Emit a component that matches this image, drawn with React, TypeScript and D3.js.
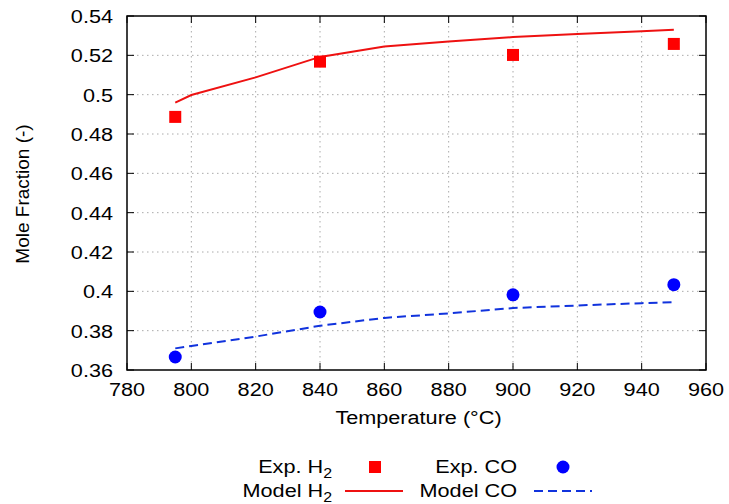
import React, { useEffect, useRef } from 'react';
import * as d3 from 'd3';

// experimental points
const expTemps = [795, 840, 900, 950];
const expH2 = [0.4887, 0.5168, 0.5202, 0.5258];
const expCO = [0.3666, 0.3895, 0.3982, 0.4034];

// model curves
const modelTemps = [795, 800, 820, 840, 860, 880, 900, 920, 940, 950];
const modelH2 = [0.4960, 0.4998, 0.5088, 0.5192, 0.5245, 0.5270, 0.5293, 0.5308, 0.5322, 0.5330];
const modelCO = [0.3710, 0.3722, 0.3770, 0.3825, 0.3865, 0.3888, 0.3915, 0.3928, 0.3940, 0.3945];

const xTicks = [780, 800, 820, 840, 860, 880, 900, 920, 940, 960];
const yTicks = [0.36, 0.38, 0.4, 0.42, 0.44, 0.46, 0.48, 0.5, 0.52, 0.54];

const App = () => {
    const chartRef = useRef<SVGSVGElement>(null);

    useEffect(() => {
        if (chartRef.current) {
            drawChart();
        }
    }, []);

    const drawChart = () => {
        const svg = d3.select(chartRef.current);
        svg.selectAll('*').remove();

        const left = 127, right = 706, top = 16, bottom = 370;
        const font = 'Liberation Sans, Arial, sans-serif';
        const sx = 1.14; // source text is a little wider than Liberation Sans

        const x = d3.scaleLinear().domain([780, 960]).range([left, right]);
        const y = d3.scaleLinear().domain([0.36, 0.54]).range([bottom, top]);

        const g = svg.append('g');

        // grid
        g.selectAll('.gx')
            .data(xTicks.slice(1, -1))
            .enter()
            .append('line')
            .attr('x1', d => x(d)).attr('x2', d => x(d))
            .attr('y1', top).attr('y2', bottom)
            .attr('stroke', '#aaa')
            .attr('stroke-width', 1)
            .attr('stroke-dasharray', '1.5,3.5');
        g.selectAll('.gy')
            .data(yTicks.slice(1, -1))
            .enter()
            .append('line')
            .attr('x1', left).attr('x2', right)
            .attr('y1', d => y(d)).attr('y2', d => y(d))
            .attr('stroke', '#aaa')
            .attr('stroke-width', 1)
            .attr('stroke-dasharray', '1.5,3.5');

        // inward ticks on all sides
        const tl = 7;
        xTicks.forEach(t => {
            g.append('line').attr('x1', x(t)).attr('x2', x(t)).attr('y1', bottom).attr('y2', bottom - tl).attr('stroke', '#000');
            g.append('line').attr('x1', x(t)).attr('x2', x(t)).attr('y1', top).attr('y2', top + tl).attr('stroke', '#000');
        });
        yTicks.forEach(t => {
            g.append('line').attr('x1', left).attr('x2', left + tl).attr('y1', y(t)).attr('y2', y(t)).attr('stroke', '#000');
            g.append('line').attr('x1', right).attr('x2', right - tl).attr('y1', y(t)).attr('y2', y(t)).attr('stroke', '#000');
        });

        // tick labels
        g.selectAll('.xl')
            .data(xTicks)
            .enter()
            .append('text')
            .attr('transform', d => `translate(${x(d)}, ${bottom + 26}) scale(${sx}, 1)`)
            .attr('text-anchor', 'middle')
            .attr('font-family', font)
            .attr('font-size', 19)
            .text(d => d);
        g.selectAll('.yl')
            .data(yTicks)
            .enter()
            .append('text')
            .attr('transform', d => `translate(${left - 14}, ${y(d) + 7}) scale(${sx}, 1)`)
            .attr('text-anchor', 'end')
            .attr('font-family', font)
            .attr('font-size', 19)
            .text(d => d3.format('')(+d.toFixed(2)));

        // axis titles
        g.append('text')
            .attr('transform', `translate(${(left + right) / 2 + 2}, 424) scale(${sx}, 1)`)
            .attr('text-anchor', 'middle')
            .attr('font-family', font)
            .attr('font-size', 19)
            .text('Temperature (°C)');
        g.append('text')
            .attr('transform', `translate(29, ${(top + bottom) / 2 + 1}) rotate(-90)`)
            .attr('text-anchor', 'middle')
            .attr('font-family', font)
            .attr('font-size', 19)
            .text('Mole Fraction (-)');

        // model lines
        const line = d3.line<number>()
            .x((d, i) => x(modelTemps[i]))
            .y(d => y(d));
        g.append('path')
            .attr('d', line(modelH2))
            .attr('fill', 'none')
            .attr('stroke', '#ee1111')
            .attr('stroke-width', 2);
        g.append('path')
            .attr('d', line(modelCO))
            .attr('fill', 'none')
            .attr('stroke', '#1133dd')
            .attr('stroke-width', 2)
            .attr('stroke-dasharray', '9,5');

        // experimental markers
        const sq = 12;
        g.selectAll('.h2')
            .data(expH2)
            .enter()
            .append('rect')
            .attr('x', (d, i) => x(expTemps[i]) - sq / 2)
            .attr('y', d => y(d) - sq / 2)
            .attr('width', sq)
            .attr('height', sq)
            .attr('fill', '#ff0000');
        g.selectAll('.co')
            .data(expCO)
            .enter()
            .append('circle')
            .attr('cx', (d, i) => x(expTemps[i]))
            .attr('cy', d => y(d))
            .attr('r', 6.5)
            .attr('fill', '#0000ff');

        // frame
        g.append('rect')
            .attr('x', left).attr('y', top)
            .attr('width', right - left).attr('height', bottom - top)
            .attr('fill', 'none')
            .attr('stroke', '#000')
            .attr('stroke-width', 1.5);

        // legend
        const legend = svg.append('g');
        const entries = [
            { label: 'Exp. H', sub: '2', tx: 332, ty: 473, kind: 'square', color: '#ff0000', mx: 375 },
            { label: 'Model H', sub: '2', tx: 332, ty: 497, kind: 'line', color: '#ee1111', mx: 374 },
            { label: 'Exp. CO', sub: '', tx: 517, ty: 473, kind: 'circle', color: '#0000ff', mx: 563 },
            { label: 'Model CO', sub: '', tx: 517, ty: 497, kind: 'dash', color: '#1133dd', mx: 563 },
        ];
        entries.forEach(e => {
            const t = legend.append('text')
                .attr('transform', `translate(${e.tx}, ${e.ty}) scale(${sx}, 1)`)
                .attr('text-anchor', 'end')
                .attr('font-family', font)
                .attr('font-size', 19);
            t.append('tspan').text(e.label);
            if (e.sub) {
                t.append('tspan').attr('dy', 5).attr('font-size', 14).text(e.sub);
            }
            const cy = e.ty - 6;
            if (e.kind === 'square') {
                legend.append('rect').attr('x', e.mx - 6).attr('y', cy - 6).attr('width', 12).attr('height', 12).attr('fill', e.color);
            } else if (e.kind === 'circle') {
                legend.append('circle').attr('cx', e.mx).attr('cy', cy).attr('r', 6.5).attr('fill', e.color);
            } else {
                legend.append('line')
                    .attr('x1', e.mx - 29).attr('x2', e.mx + 29)
                    .attr('y1', cy).attr('y2', cy)
                    .attr('stroke', e.color)
                    .attr('stroke-width', 2)
                    .attr('stroke-dasharray', e.kind === 'dash' ? '9,5' : null);
            }
        });
    };

    return (
        <svg
            ref={chartRef}
            width="729"
            height="504"
            style={{ position: 'absolute', left: 0, top: 0, background: '#fff' }}
        />
    );
};

export default App;
